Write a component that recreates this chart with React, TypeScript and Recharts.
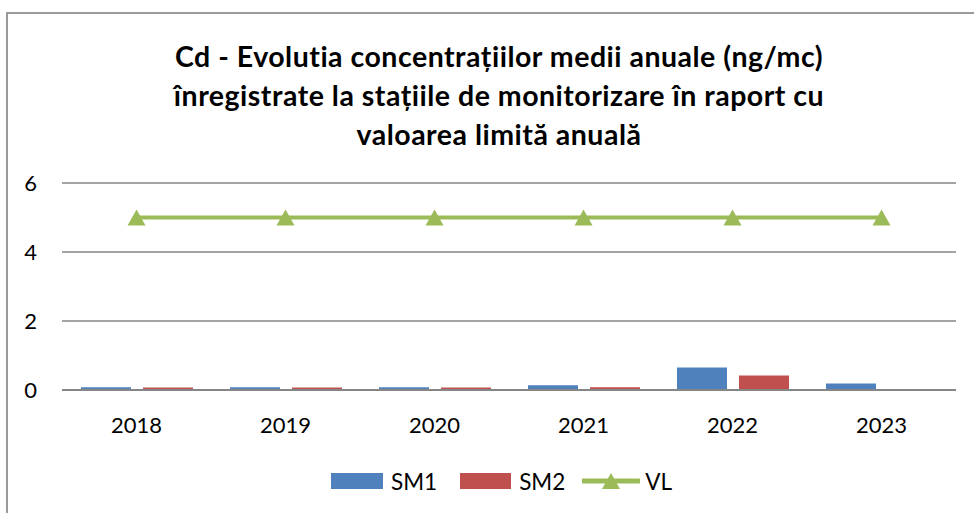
import React from 'react';
import {
  ComposedChart,
  Bar,
  Line,
  XAxis,
  YAxis,
  CartesianGrid,
} from 'recharts';

// ── Data ──────────────────────────────────────────────────────────────────────

const years = ['2018', '2019', '2020', '2021', '2022', '2023'];
const sm1 = [0.08, 0.08, 0.08, 0.14, 0.65, 0.19];
const sm2 = [0.07, 0.07, 0.07, 0.08, 0.42, null];
const vl = [5, 5, 5, 5, 5, 5];
const yTicks = [0, 2, 4, 6];

const titleLines = [
  'Cd - Evolutia concentrațiilor medii anuale (ng/mc)',
  'înregistrate la stațiile de monitorizare în raport cu',
  'valoarea limită anuală',
];

const data = years.map((y, i) => ({ year: y, SM1: sm1[i], SM2: sm2[i], VL: vl[i] }));

const FONT = 'Lato, "Open Sans", sans-serif';
const BLUE = '#4F81BD';
const RED = '#C0504D';
const GREEN = '#9BBB59';
const GRID = '#868686';

// triangle marker for the VL series
function Triangle(props: { cx?: number; cy?: number }) {
  const { cx, cy } = props;
  if (cx == null || cy == null) return null;
  const w = 9;
  const h = 16;
  return (
    <path
      d={`M${cx},${cy - h / 2} L${cx + w},${cy + h / 2} L${cx - w},${cy + h / 2} Z`}
      fill={GREEN}
    />
  );
}

export default function App() {
  return (
    <div
      style={{
        position: 'absolute',
        left: 0,
        top: 0,
        width: 974,
        height: 513,
        overflow: 'hidden',
        background: '#fff',
        fontFamily: FONT,
      }}
    >
      {/* chart frame */}
      <div
        style={{
          position: 'absolute',
          left: 6,
          top: 12,
          width: 1000,
          height: 540,
          border: '2px solid #9a9a9a',
        }}
      />

      {/* title */}
      <div
        style={{
          position: 'absolute',
          left: 0,
          top: 37,
          width: 998,
          textAlign: 'center',
          fontWeight: 700,
          fontSize: 28.5,
          letterSpacing: 0.5,
          lineHeight: '39px',
          color: '#000',
        }}
      >
        {titleLines.map((t) => (
          <div key={t}>{t}</div>
        ))}
      </div>

      <div style={{ position: 'absolute', left: 0, top: 0 }}>
        <ComposedChart
          width={974}
          height={513}
          data={data}
          margin={{ top: 183, right: 18, bottom: 83, left: 12 }}
          barGap={12}
        >
          <CartesianGrid vertical={false} stroke={GRID} strokeWidth={1.3} />
          <XAxis
            dataKey="year"
            height={40}
            tickLine={false}
            tickSize={0}
            tickMargin={27}
            axisLine={{ stroke: GRID, strokeWidth: 2 }}
            tick={{ fill: '#000', fontSize: 22, fontFamily: FONT }}
          />
          <YAxis
            width={50}
            domain={[0, 6]}
            ticks={yTicks}
            axisLine={false}
            tickLine={false}
            tickSize={0}
            tickMargin={25}
            tick={{ fill: '#000', fontSize: 22, fontFamily: FONT }}
          />
          <Bar dataKey="SM1" fill={BLUE} barSize={50} isAnimationActive={false} />
          <Bar dataKey="SM2" fill={RED} barSize={50} isAnimationActive={false} />
          <Line
            dataKey="VL"
            stroke={GREEN}
            strokeWidth={4}
            dot={<Triangle />}
            activeDot={false}
            isAnimationActive={false}
          />
        </ComposedChart>
      </div>

      {/* legend */}
      <div
        style={{
          position: 'absolute',
          left: 331,
          top: 468,
          display: 'flex',
          alignItems: 'center',
          fontSize: 22.5,
          color: '#000',
          height: 26,
        }}
      >
        <div style={{ width: 52, height: 16, background: BLUE }} />
        <span style={{ marginLeft: 8, marginRight: 23 }}>SM1</span>
        <div style={{ width: 51, height: 16, background: RED }} />
        <span style={{ marginLeft: 8, marginRight: 17 }}>SM2</span>
        <svg width={58} height={20} style={{ display: 'block' }}>
          <line x1={1} y1={10} x2={57} y2={10} stroke={GREEN} strokeWidth={5} strokeLinecap="round" />
          <path d="M29,2 L38,18 L20,18 Z" fill={GREEN} />
        </svg>
        <span style={{ marginLeft: 5 }}>VL</span>
      </div>
    </div>
  );
}
